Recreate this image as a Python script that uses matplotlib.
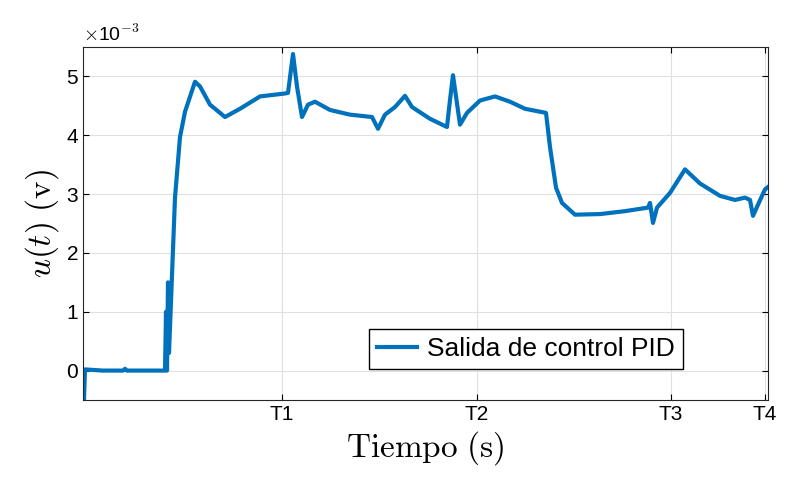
import numpy as np
import matplotlib.pyplot as plt

plt.rcParams["mathtext.fontset"] = "cm"
plt.rcParams["font.family"] = "Liberation Sans"

# time axis in arbitrary units, T4 at the right edge
t = [0, 1, 2, 20, 40, 42, 44, 60, 82, 83, 84, 85, 86, 92, 97, 102, 112, 117, 127,
     142, 157, 177, 202, 205, 210, 214, 219, 225, 232, 247, 267, 289, 295, 302,
     312, 322, 329, 347, 364, 367, 370, 377, 384, 397, 412, 427, 442, 463, 467,
     473, 479, 492, 517, 542, 565, 567, 570, 574, 587, 602, 617, 637, 652, 662,
     667, 670, 675, 682, 685]
u = [0.0, -0.5, 0.02, 0.0, 0.0, 0.03, 0.0, 0.0, 0.0, 1.0, 0.0, 1.5, 0.3, 2.94,
     3.97, 4.40, 4.91, 4.83, 4.52, 4.31, 4.45, 4.66, 4.71, 4.72, 5.38, 4.83,
     4.31, 4.52, 4.57, 4.43, 4.35, 4.31, 4.11, 4.35, 4.48, 4.67, 4.48, 4.28,
     4.14, 4.6, 5.02, 4.18, 4.38, 4.59, 4.66, 4.57, 4.45, 4.38, 3.80, 3.11,
     2.85, 2.65, 2.66, 2.71, 2.77, 2.85, 2.51, 2.77, 3.02, 3.42, 3.18, 2.97,
     2.90, 2.94, 2.90, 2.63, 2.82, 3.08, 3.12]
tick_pos = [199, 394, 588, 682]
tick_labels = ["T1", "T2", "T3", "T4"]

fig = plt.figure(figsize=(8.11, 4.94), dpi=100)
ax = fig.add_axes([83 / 811, 94 / 494, 685 / 811, 353 / 494])
ax.plot(t, np.array(u) * 1e-3, color="#0072BD", lw=3, label="Salida de control PID")
ax.set_xlim(0, 685)
ax.set_ylim(-0.5e-3, 5.5e-3)
ax.set_xticks(tick_pos, tick_labels)
ax.set_yticks(np.arange(0, 6) * 1e-3, [str(i) for i in range(6)])
ax.tick_params(labelsize=15, direction="in", length=4, top=True, right=True)
ax.text(0, 1.005, r"$\times$10$^{-3}$", transform=ax.transAxes, fontsize=14,
        ha="left", va="bottom")
ax.grid(True, color="#e0e0e0", lw=0.8)
ax.set_xlabel(r"$\mathrm{Tiempo\ (s)}$", fontsize=24)
ax.set_ylabel(r"$u(t)\ \mathrm{(v)}$", fontsize=24)
ax.legend(loc="lower right", fontsize=19, framealpha=1, edgecolor="black",
          fancybox=False, handlelength=1.5, handletextpad=0.4, borderpad=0.3,
          bbox_to_anchor=(0.895, 0.05))
for s in ax.spines.values():
    s.set_color("#262626")
fig.savefig("out.png")
